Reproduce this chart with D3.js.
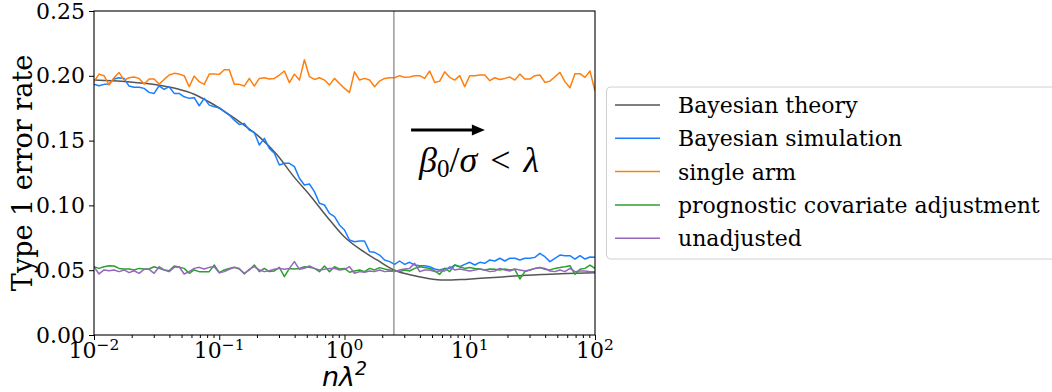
<!DOCTYPE html>
<html><head><meta charset="utf-8">
<script src="https://cdn.jsdelivr.net/npm/d3@7"></script>
<style>
html,body{margin:0;padding:0;background:#fff;}
svg{display:block;}
</style></head>
<body><svg id="c" width="1052" height="392"></svg>
<script>
// ---------- data ----------
const xExponents = d3.range(101).map(i => -2 + i * 0.04); // log-spaced grid 1e-2..1e2
const seriesNames = ["Bayesian theory","Bayesian simulation","single arm","prognostic covariate adjustment","unadjusted"];
const seriesColors = ["#555555","#1a7fff","#ff7f0e","#2ca02c","#9467bd"];

const theoryExp = [-2.0,-1.734,-1.466,-1.337,-1.2,-1.066,-0.938,-0.802,-0.667,-0.539,-0.403,-0.267,-0.14,-0.004,0.132,0.26,0.395,0.531,0.659,0.794,0.93,1.058,1.194,1.329,1.457,1.593,1.728,1.856,2.0];
const theoryVals = [0.1967,0.1954,0.1925,0.1900,0.1858,0.1790,0.1712,0.1620,0.1517,0.1390,0.1220,0.1067,0.0913,0.0760,0.0656,0.0579,0.0502,0.0463,0.0438,0.0424,0.0428,0.0436,0.0444,0.0453,0.0461,0.0467,0.0472,0.0477,0.0481];

const simVals = [0.1936,0.1923,0.1934,0.1936,0.1975,0.1985,0.1980,0.1921,0.1911,0.1911,
0.1903,0.1872,0.1864,0.1923,0.1895,0.1916,0.1864,0.1864,0.1838,0.1826,
0.1831,0.1769,0.1826,0.1774,0.1761,0.1754,0.1723,0.1697,0.1658,0.1625,
0.1633,0.1581,0.1563,0.1466,0.1517,0.1440,0.1402,0.1312,0.1325,0.1325,
0.1299,0.1209,0.1157,0.1165,0.1106,0.1016,0.1003,0.0939,0.0913,0.0849,
0.0810,0.0733,0.0720,0.0725,0.0725,0.0643,0.0638,0.0617,0.0579,0.0566,
0.0545,0.0571,0.0545,0.0561,0.0540,0.0535,0.0535,0.0527,0.0509,0.0502,
0.0514,0.0514,0.0540,0.0527,0.0545,0.0561,0.0540,0.0561,0.0553,0.0579,
0.0571,0.0592,0.0571,0.0592,0.0592,0.0579,0.0592,0.0592,0.0599,0.0630,
0.0604,0.0566,0.0592,0.0617,0.0612,0.0612,0.0586,0.0612,0.0586,0.0602,0.0599];

const singleArmVals = [0.1955,0.2013,0.2001,0.1929,0.1985,0.2026,0.1967,0.1985,0.1990,0.1980,
0.1936,0.1975,0.1975,0.1936,0.1972,0.2006,0.2019,0.2013,0.2001,0.1916,
0.1998,0.1955,0.1934,0.2013,0.2013,0.2011,0.2047,0.2047,0.1934,0.1934,
0.1921,0.1980,0.1921,0.1980,0.1985,0.1975,0.1980,0.2006,0.2037,0.1947,
0.2013,0.1967,0.2124,0.1993,0.1972,0.1985,0.1967,0.1929,0.1980,0.1941,
0.1903,0.1872,0.2031,0.1967,0.1980,0.1967,0.1916,0.1959,0.1980,0.1985,
0.1985,0.2001,0.1988,0.1990,0.2001,0.2001,0.1980,0.2037,0.1949,0.1959,
0.2031,0.1988,0.1967,0.2001,0.1916,0.2001,0.2001,0.2006,0.2006,0.1962,
0.1985,0.1972,0.1980,0.1990,0.1967,0.2013,0.1975,0.1975,0.2001,0.2006,
0.1949,0.1959,0.1993,0.2026,0.1955,0.1908,0.2016,0.2016,0.1988,0.2037,0.1882];

const prognosticVals = [0.0527,0.0514,0.0527,0.0535,0.0532,0.0514,0.0509,0.0509,0.0502,0.0514,
0.0509,0.0509,0.0527,0.0514,0.0502,0.0496,0.0532,0.0522,0.0514,0.0476,
0.0502,0.0489,0.0489,0.0489,0.0540,0.0481,0.0502,0.0514,0.0522,0.0509,
0.0476,0.0502,0.0540,0.0489,0.0514,0.0489,0.0494,0.0522,0.0450,0.0514,
0.0509,0.0514,0.0527,0.0522,0.0514,0.0489,0.0532,0.0489,0.0527,0.0509,
0.0514,0.0484,0.0494,0.0502,0.0489,0.0514,0.0502,0.0520,0.0509,0.0502,
0.0494,0.0489,0.0502,0.0494,0.0514,0.0527,0.0520,0.0514,0.0494,0.0468,
0.0514,0.0489,0.0540,0.0527,0.0514,0.0520,0.0514,0.0509,0.0502,0.0509,
0.0507,0.0502,0.0509,0.0502,0.0507,0.0432,0.0489,0.0502,0.0514,0.0520,
0.0507,0.0502,0.0514,0.0520,0.0527,0.0535,0.0468,0.0507,0.0514,0.0540,0.0514];

const unadjustedVals = [0.0527,0.0471,0.0502,0.0496,0.0502,0.0489,0.0502,0.0481,0.0496,0.0476,
0.0507,0.0507,0.0476,0.0527,0.0502,0.0489,0.0522,0.0527,0.0471,0.0489,
0.0514,0.0522,0.0509,0.0522,0.0527,0.0481,0.0489,0.0507,0.0522,0.0514,
0.0471,0.0507,0.0527,0.0502,0.0489,0.0496,0.0507,0.0514,0.0507,0.0514,
0.0566,0.0507,0.0514,0.0532,0.0514,0.0502,0.0507,0.0514,0.0514,0.0502,
0.0507,0.0527,0.0476,0.0489,0.0484,0.0494,0.0489,0.0502,0.0489,0.0494,
0.0489,0.0502,0.0509,0.0514,0.0553,0.0489,0.0502,0.0502,0.0489,0.0494,
0.0494,0.0527,0.0502,0.0509,0.0502,0.0494,0.0502,0.0509,0.0502,0.0489,
0.0494,0.0514,0.0502,0.0494,0.0509,0.0502,0.0494,0.0502,0.0514,0.0520,
0.0514,0.0494,0.0489,0.0502,0.0489,0.0514,0.0489,0.0494,0.0494,0.0489,0.0489];

const yTicks = [0, 0.05, 0.10, 0.15, 0.20, 0.25];
const xMajorExps = [-2, -1, 0, 1, 2];
const thresholdX = 2.48;
const arrowFrom = [3.40, 0.1582], arrowTo = [13.2, 0.1582];
const annotationAt = [3.94, 0.126];

// ---------- chart ----------
const svg = d3.select("#c");
const L = 94, R = 595, T = 11, B = 335;
const x = d3.scaleLog().domain([1e-2, 1e2]).range([L, R]);
const y = d3.scaleLinear().domain([0, 0.25]).range([B, T]);
const serif = "DejaVu Serif";

svg.append("defs").append("clipPath").attr("id","clip")
  .append("rect").attr("x",L).attr("y",T).attr("width",R-L).attr("height",B-T);

const plot = svg.append("g").attr("clip-path","url(#clip)");
const line = d3.line().x(d => x(d[0])).y(d => y(d[1]));
const grid = xExponents.map(e => Math.pow(10, e));

const theoryData = theoryExp.map((e,i) => [Math.pow(10,e), theoryVals[i]]);
const allSeries = [
  {data: theoryData, curve: d3.curveMonotoneX},
  {data: grid.map((g,i)=>[g, simVals[i]])},
  {data: grid.map((g,i)=>[g, singleArmVals[i]])},
  {data: grid.map((g,i)=>[g, prognosticVals[i]])},
  {data: grid.map((g,i)=>[g, unadjustedVals[i]])}
];
allSeries.forEach((s, k) => {
  plot.append("path")
    .attr("d", (s.curve ? line.curve(s.curve) : line.curve(d3.curveLinear))(s.data))
    .attr("fill","none").attr("stroke", seriesColors[k])
    .attr("stroke-width", 1.5).attr("stroke-linejoin","round");
});

// threshold vertical line
plot.append("line")
  .attr("x1", x(thresholdX)).attr("x2", x(thresholdX))
  .attr("y1", y(0)).attr("y2", y(0.25))
  .attr("stroke","#808080").attr("stroke-width",1.2);

// arrow
const ax0 = x(arrowFrom[0]), ax1 = x(arrowTo[0]), ay = y(arrowFrom[1]);
const headLen = 13, headHalf = 5.5;
svg.append("line").attr("x1",ax0).attr("x2",ax1-headLen+1).attr("y1",ay).attr("y2",ay)
  .attr("stroke","#000").attr("stroke-width",3);
svg.append("path")
  .attr("d",`M${ax1},${ay} L${ax1-headLen},${ay-headHalf} L${ax1-headLen},${ay+headHalf} Z`)
  .attr("fill","#000");

// annotation text
const ann = svg.append("text")
  .attr("x", x(annotationAt[0])).attr("y", y(annotationAt[1]))
  .attr("font-family","Liberation Serif").attr("font-size",36).attr("fill","#000");
ann.append("tspan").attr("font-style","italic").text("β");
ann.append("tspan").attr("font-size",25).attr("dy",5).text("0");
ann.append("tspan").attr("dy",-5).text("/");
ann.append("tspan").attr("font-style","italic").text("σ");
ann.append("tspan").attr("dx",13).text("<");
ann.append("tspan").attr("dx",13).attr("font-style","italic").text("λ");

// axes
const yAxis = svg.append("g").attr("transform",`translate(${L},0)`)
  .call(d3.axisLeft(y).tickValues(yTicks).tickFormat(d3.format(".2f")).tickSize(5).tickPadding(4));
yAxis.selectAll("text").attr("font-family",serif).attr("font-size",22).attr("fill","#000");

const minorTicks = [];
[-2,-1,0,1].forEach(e => { for (let m=2;m<=9;m++) minorTicks.push(m*Math.pow(10,e)); });
const xMinor = svg.append("g").attr("transform",`translate(0,${B})`)
  .call(d3.axisBottom(x).tickValues(minorTicks).tickFormat("").tickSize(3));
const xAxis = svg.append("g").attr("transform",`translate(0,${B})`)
  .call(d3.axisBottom(x).tickValues(xMajorExps.map(e=>Math.pow(10,e))).tickFormat("").tickSize(5));
[yAxis, xMinor, xAxis].forEach(g => { g.select(".domain").remove(); g.selectAll("line").attr("stroke","#000").attr("stroke-width",1); });

// x tick labels with superscripts
xMajorExps.forEach(e => {
  const t = svg.append("text")
    .attr("x", x(Math.pow(10,e))).attr("y", 358)
    .attr("text-anchor","middle").attr("font-family",serif).attr("font-size",22).attr("fill","#000");
  t.append("tspan").text("10");
  t.append("tspan").attr("font-size",15.5).attr("dy",-8).text(e < 0 ? "\u2212" + Math.abs(e) : String(e));
});

// frame
svg.append("rect").attr("x",L).attr("y",T).attr("width",R-L).attr("height",B-T)
  .attr("fill","none").attr("stroke","#000").attr("stroke-width",1.1);

// axis labels
svg.append("text").attr("transform",`translate(32,${(T+B)/2}) rotate(-90)`)
  .attr("text-anchor","middle").attr("font-family",serif).attr("font-size",27).attr("fill","#000")
  .text("Type 1 error rate");
const xl = svg.append("text").attr("x",(L+R)/2).attr("y",386).attr("text-anchor","middle")
  .attr("font-family","DejaVu Sans").attr("font-style","italic").attr("font-size",27).attr("fill","#000");
xl.append("tspan").text("nλ");
xl.append("tspan").attr("font-size",19).attr("dy",-11).text("2");

// legend
const lg = svg.append("g");
lg.append("rect").attr("x",606.5).attr("y",87).attr("width",460).attr("height",172).attr("rx",4)
  .attr("fill","#fff").attr("stroke","#d0d0d0").attr("stroke-width",1);
seriesNames.forEach((n,i) => {
  const cy = 105 + i*33.3;
  lg.append("line").attr("x1",615).attr("x2",660).attr("y1",cy).attr("y2",cy)
    .attr("stroke",seriesColors[i]).attr("stroke-width",1.5);
  lg.append("text").attr("x",678).attr("y",cy+8).attr("font-family",serif).attr("font-size",22)
    .attr("fill","#000").text(n);
});
</script></body></html>
